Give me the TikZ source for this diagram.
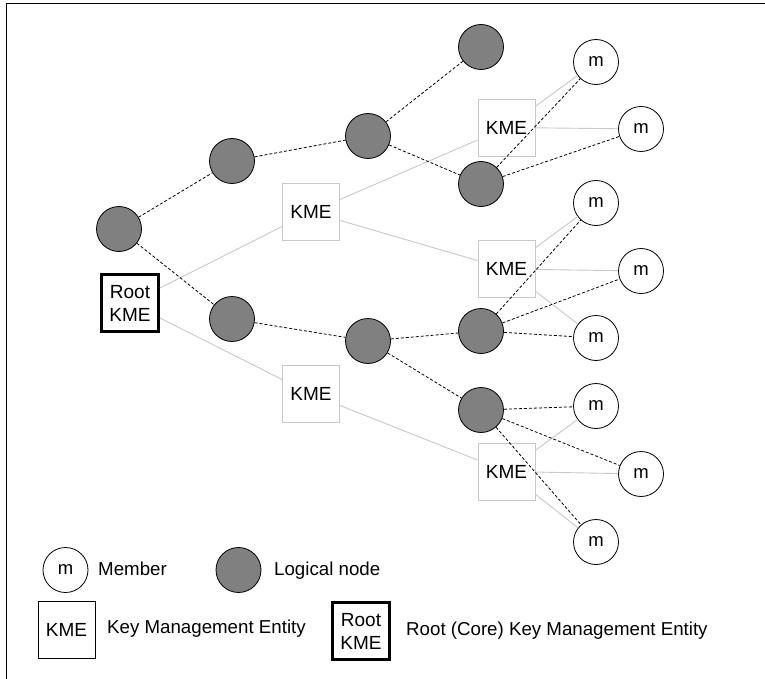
\documentclass[tikz,border=0pt]{standalone}
\usepackage{fontspec}
\setmainfont{Liberation Sans}
\definecolor{nodegray}{RGB}{128,128,128}
\definecolor{linkgray}{RGB}{200,200,200}
\tikzset{
  logical/.style={circle, draw=black, line width=0.8pt, fill=nodegray, minimum size=45pt, inner sep=0pt},
  member/.style={circle, draw=black, line width=0.8pt, fill=white, minimum size=45pt, inner sep=0pt,
                 font=\fontsize{18.5}{22}\selectfont},
  kme/.style={rectangle, draw=linkgray, line width=0.9pt, minimum size=57pt, inner sep=0pt,
              font=\fontsize{19}{22}\selectfont},
  rootkme/.style={rectangle, draw=black, line width=2.6pt, fill=white, minimum width=57pt,
                  minimum height=57pt, inner sep=0pt, align=center, font=\fontsize{19}{23}\selectfont},
  keylink/.style={draw=linkgray, line width=0.9pt},
  treelink/.style={draw=black, line width=0.8pt, dash pattern=on 3pt off 2pt},
  legendtext/.style={anchor=west, inner sep=0pt, font=\fontsize{18.7}{22}\selectfont}
}
\begin{document}
\begin{tikzpicture}[x=1pt,y=-1pt]
\useasboundingbox (0,0) rectangle (765,679);
% outer frame (left and top edges)
\draw[line width=1.2pt] (6.5,679) -- (6.5,3.5) -- (765,3.5);

% key management entities
\node[rootkme] (root) at (130,303) {Root\\KME};
\node[kme] (k2) at (311,212) {KME};
\node[kme] (k4) at (311,394) {KME};
\node[kme] (k1) at (506.5,127.5) {KME};
\node[kme] (k3) at (506.5,269) {KME};
\node[kme] (k5) at (506.5,471.5) {KME};

% members
\node[member] (m1) at (596,62) {m};
\node[member] (m2) at (641,129) {m};
\node[member] (m3) at (596,203) {m};
\node[member] (m4) at (641,271) {m};
\node[member] (m5) at (596,338) {m};
\node[member] (m6) at (596,406) {m};
\node[member] (m7) at (641,474) {m};
\node[member] (m8) at (596,542) {m};

% logical tree nodes
\node[logical] (l0) at (119,229) {};
\node[logical] (l1) at (232,161) {};
\node[logical] (l2) at (368,136) {};
\node[logical] (l3) at (481,47) {};
\node[logical] (l4) at (481,184) {};
\node[logical] (l5) at (232,319) {};
\node[logical] (l6) at (368,341) {};
\node[logical] (l7) at (481,331) {};
\node[logical] (l8) at (481,410) {};

% key distribution links
\path[keylink] (root) -- (k2);
\path[keylink] (root) -- (k4);
\path[keylink] (k2) -- (k1);
\path[keylink] (k2) -- (k3);
\path[keylink] (k4) -- (k5);
\path[keylink] (k1) -- (m1);
\path[keylink] (k1) -- (m2);
\path[keylink] (k3) -- (m3);
\path[keylink] (k3) -- (m4);
\path[keylink] (k3) -- (m5);
\path[keylink] (k5) -- (m6);
\path[keylink] (k5) -- (m7);
\path[keylink] (k5) -- (m8);

% logical key tree links
\path[treelink] (l0) -- (l1);
\path[treelink] (l0) -- (l5);
\path[treelink] (l1) -- (l2);
\path[treelink] (l2) -- (l3);
\path[treelink] (l2) -- (l4);
\path[treelink] (l5) -- (l6);
\path[treelink] (l6) -- (l7);
\path[treelink] (l6) -- (l8);
\path[treelink] (l4) -- (m1);
\path[treelink] (l4) -- (m2);
\path[treelink] (l7) -- (m3);
\path[treelink] (l7) -- (m4);
\path[treelink] (l7) -- (m5);
\path[treelink] (l8) -- (m6);
\path[treelink] (l8) -- (m7);
\path[treelink] (l8) -- (m8);

% legend
\node[member] (lgm) at (65.5,570) {m};
\node[legendtext] (lgmt) at (98,569) {Member};
\node[logical] (lgl) at (238.5,570) {};
\node[legendtext] (lglt) at (274,571) {Logical node};
\node[kme, draw=black] (lgk) at (66.5,630) {KME};
\node[legendtext] (lgkt) at (107,629) {Key Management Entity};
\node[rootkme] (lgr) at (361,631) {Root\\KME};
\node[legendtext] (lgrt) at (406,631) {Root (Core) Key Management Entity};
\end{tikzpicture}
\end{document}
